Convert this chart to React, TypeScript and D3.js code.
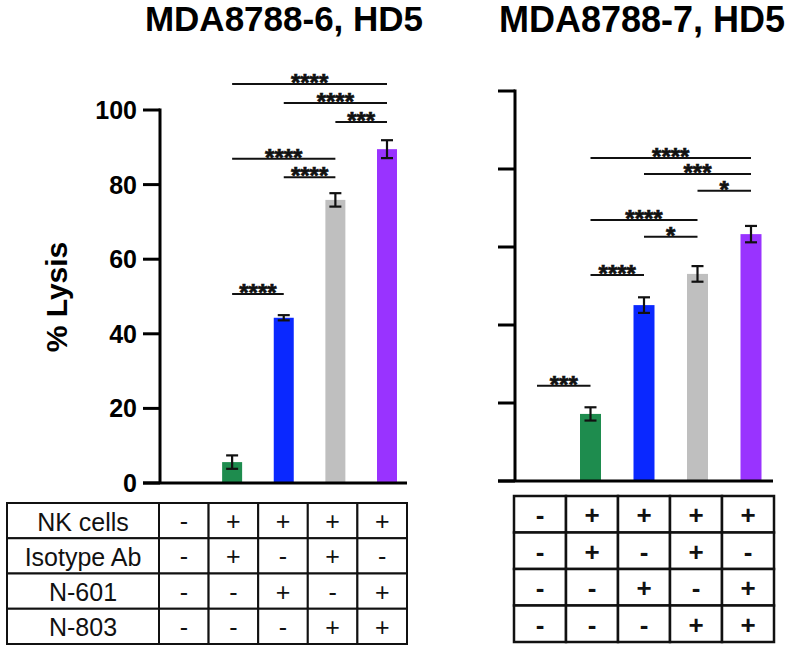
import React from 'react';
import * as d3 from 'd3';

// ---- data ----
const categories = ['none', 'NK+Iso', 'NK+N601', 'NK+Iso+N803', 'NK+N601+N803'];
const leftTitle = 'MDA8788-6, HD5';
const rightTitle = 'MDA8788-7, HD5';
const leftValues = [0, 5.6, 44.3, 75.9, 89.5];
const leftErrors = [0, 1.8, 0.7, 1.8, 2.4];
const rightValues = [0, 17.2, 45.1, 53.1, 63.3];
const rightErrors = [0, 1.7, 2.0, 2.0, 2.1];
const barColors = ['#ffffff', '#1e8c4e', '#0a28ff', '#bfbfbf', '#9933ff'];
const yTicks = [0, 20, 40, 60, 80, 100];
const yLabel = '% Lysis';

const leftSig = [
  { from: 1, to: 4, label: '****', level: 107 },
  { from: 2, to: 4, label: '****', level: 101.9 },
  { from: 3, to: 4, label: '***', level: 96.8 },
  { from: 1, to: 3, label: '****', level: 86.9 },
  { from: 2, to: 3, label: '****', level: 82 },
  { from: 1, to: 2, label: '****', level: 50.7 },
];
const rightSig = [
  { from: 1, to: 4, label: '****', level: 82.8 },
  { from: 2, to: 4, label: '***', level: 78.7 },
  { from: 3, to: 4, label: '*', level: 74.4 },
  { from: 1, to: 3, label: '****', level: 66.9 },
  { from: 2, to: 3, label: '*', level: 62.6 },
  { from: 1, to: 2, label: '****', level: 52.8 },
  { from: 0, to: 1, label: '***', level: 24.4 },
];

const rowLabels = ['NK cells', 'Isotype Ab', 'N-601', 'N-803'];
const signs = [
  ['-', '+', '+', '+', '+'],
  ['-', '+', '-', '+', '-'],
  ['-', '-', '+', '-', '+'],
  ['-', '-', '-', '+', '+'],
];

const FONT = '"Liberation Sans", Arial, Helvetica, sans-serif';

type Sig = { from: number; to: number; label: string; level: number };

function Panel(props: {
  values: number[];
  errors: number[];
  sig: Sig[];
  axisX: number;
  xRange: [number, number];
  yRange: [number, number];
  xAxisEnd: number;
  barWidth: number;
  showLabels: boolean;
}) {
  const { values, errors, sig, axisX, xRange, yRange, xAxisEnd, barWidth, showLabels } = props;
  const x = d3.scalePoint<string>().domain(categories).range(xRange);
  const y = d3.scaleLinear().domain([0, 100]).range(yRange);
  const tickLen = 17;
  return (
    <g>
      {values.map((v, i) =>
        v > 0 ? (
          <rect
            key={'b' + i}
            x={(x(categories[i]) as number) - barWidth / 2}
            y={y(v)}
            width={barWidth}
            height={y(0) - y(v)}
            fill={barColors[i]}
          />
        ) : null
      )}
      {values.map((v, i) => {
        if (v <= 0) return null;
        const cx = x(categories[i]) as number;
        const t = y(v + errors[i]);
        const b = y(v - errors[i]);
        return (
          <g key={'e' + i} stroke="#111" strokeWidth={2.2}>
            <line x1={cx} x2={cx} y1={t} y2={b} />
            <line x1={cx - 6} x2={cx + 6} y1={t} y2={t} />
            <line x1={cx - 6} x2={cx + 6} y1={b} y2={b} />
          </g>
        );
      })}
      <line x1={axisX} x2={axisX} y1={y(100) - 1.5} y2={y(0)} stroke="#000" strokeWidth={3} />
      {yTicks.map((t) => (
        <g key={'t' + t}>
          <line x1={axisX - tickLen} x2={axisX} y1={y(t)} y2={y(t)} stroke="#000" strokeWidth={3} />
          {showLabels && (
            <text
              x={axisX - tickLen - 6}
              y={y(t)}
              dy="0.36em"
              textAnchor="end"
              fontFamily={FONT}
              fontWeight="bold"
              fontSize={25}
              fill="#000"
            >
              {t}
            </text>
          )}
        </g>
      ))}
      <line x1={axisX - tickLen} x2={xAxisEnd} y1={y(0)} y2={y(0)} stroke="#000" strokeWidth={3} />
      {sig.map((s, i) => {
        const x1 = x(categories[s.from]) as number;
        const x2 = x(categories[s.to]) as number;
        const ly = y(s.level);
        return (
          <g key={'s' + i}>
            <line x1={x1} x2={x2} y1={ly} y2={ly} stroke="#111" strokeWidth={2} />
            <text
              x={(x1 + x2) / 2}
              y={ly + 7}
              textAnchor="middle"
              fontFamily={FONT}
              fontWeight="bold"
              fontSize={24}
              fill="#111"
              stroke="#111"
              strokeWidth={0.7}
            >
              {s.label}
            </text>
          </g>
        );
      })}
    </g>
  );
}

function Table(props: {
  x0: number;
  colStart: number;
  x1: number;
  y0: number;
  y1: number;
  showLabels: boolean;
  bold: boolean;
  stroke: number;
}) {
  const { x0, colStart, x1, y0, y1, showLabels, bold, stroke } = props;
  const cols = d3.scaleBand<string>().domain(categories).range([colStart, x1]);
  const rows = d3.scaleBand<string>().domain(rowLabels).range([y0, y1]);
  const rh = rows.bandwidth();
  return (
    <g>
      {rowLabels.map((r, ri) => (
        <g key={r}>
          {showLabels && (
            <g>
              <rect
                x={x0}
                y={rows(r)}
                width={colStart - x0}
                height={rh}
                fill="#fff"
                stroke="#111"
                strokeWidth={stroke}
              />
              <text
                x={(x0 + colStart) / 2}
                y={(rows(r) as number) + rh / 2}
                dy="0.4em"
                textAnchor="middle"
                fontFamily={FONT}
                fontSize={25}
                fill="#111"
              >
                {r}
              </text>
            </g>
          )}
          {categories.map((c, ci) => (
            <g key={c}>
              <rect
                x={cols(c)}
                y={rows(r)}
                width={cols.bandwidth()}
                height={rh}
                fill="#fff"
                stroke="#111"
                strokeWidth={stroke}
              />
              <text
                x={(cols(c) as number) + cols.bandwidth() / 2}
                y={(rows(r) as number) + rh / 2}
                dy="0.38em"
                textAnchor="middle"
                fontFamily={FONT}
                fontWeight={bold ? 'bold' : 'normal'}
                fontSize={bold ? 26 : 25}
                fill="#111"
              >
                {signs[ri][ci]}
              </text>
            </g>
          ))}
        </g>
      ))}
    </g>
  );
}

export default function App() {
  return (
    <div style={{ position: 'absolute', left: 0, top: 0 }}>
      <svg width={791} height={646} viewBox="0 0 791 646" style={{ display: 'block', background: '#fff' }}>
        <rect x={0} y={0} width={791} height={646} fill="#fff" />
        <text x={284} y={31} textAnchor="middle" fontFamily={FONT} fontWeight="bold" fontSize={35} fill="#000">
          {leftTitle}
        </text>
        <text x={642} y={32} textAnchor="middle" fontFamily={FONT} fontWeight="bold" fontSize={36} fill="#000">
          {rightTitle}
        </text>
        <text
          transform="translate(67,297) rotate(-90)"
          textAnchor="middle"
          fontFamily={FONT}
          fontWeight="bold"
          fontSize={30}
          fill="#000"
        >
          {yLabel}
        </text>
        <Panel
          values={leftValues}
          errors={leftErrors}
          sig={leftSig}
          axisX={160}
          xRange={[180.5, 387]}
          yRange={[483, 110]}
          xAxisEnd={407}
          barWidth={20}
          showLabels={true}
        />
        <Panel
          values={rightValues}
          errors={rightErrors}
          sig={rightSig}
          axisX={515}
          xRange={[537, 751]}
          yRange={[481, 91]}
          xAxisEnd={773}
          barWidth={21}
          showLabels={false}
        />
        <Table x0={7} colStart={159} x1={407} y0={503} y1={644} showLabels={true} bold={false} stroke={2} />
        <Table x0={514} colStart={514} x1={774} y0={496} y1={642} showLabels={false} bold={true} stroke={2.5} />
      </svg>
    </div>
  );
}
